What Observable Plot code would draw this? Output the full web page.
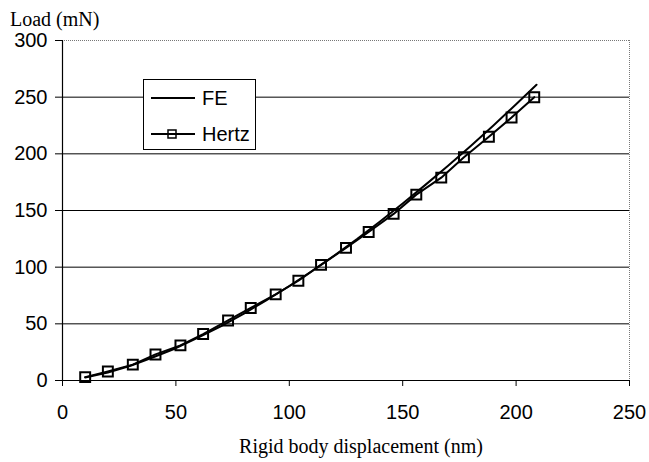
<!DOCTYPE html>
<html>
<head>
<meta charset="utf-8">
<script src="https://cdn.jsdelivr.net/npm/d3@7"></script>
<script src="https://cdn.jsdelivr.net/npm/@observablehq/plot@0.6"></script>
<style>
  html, body { margin: 0; padding: 0; background: #fff; }
  #chart { width: 649px; height: 462px; }
</style>
</head>
<body>
<div id="chart"></div>
<script>
// ---- data ----
const xTicks = [0, 50, 100, 150, 200, 250];
const yTicks = [0, 50, 100, 150, 200, 250, 300];
const gridValues = [50, 100, 150, 200, 250];

const hertzX = [10, 20, 31, 41, 52, 62, 73, 83, 94, 104, 114, 125, 135, 146, 156, 167, 177, 188, 198, 208];
const hertzY = [3, 8, 14, 23, 31, 41, 53, 64, 76, 88, 102, 117, 131, 147, 164, 179, 197, 215, 232, 250];

const feX = [10, 20, 30, 40, 50, 60, 70, 80, 90, 100, 110, 120, 130, 140, 150, 160, 170, 180, 190, 200, 209];
const feY = [2.6, 7, 13, 20.5, 28.5, 38, 48, 59, 71, 83.4, 96.6, 110.5, 125, 140.3, 156.2, 172.6, 189.5, 207, 225, 243.8, 261];

const seriesNames = ["FE", "Hertz"];
const yTitle = "Load (mN)";
const xTitle = "Rigid body displacement (nm)";

const hertz = hertzX.map((x, i) => ({x, y: hertzY[i]}));
const fe = feX.map((x, i) => ({x, y: feY[i]}));

const W = 649, H = 462;

const chart = Plot.plot({
  width: W,
  height: H,
  marginLeft: 62,
  marginRight: 20,
  marginTop: 40,
  marginBottom: 82,
  style: {fontFamily: "'Liberation Sans', Arial, sans-serif", fontSize: "20px", background: "#fff", color: "#000"},
  x: {domain: [0, 250], ticks: xTicks, tickSize: 6, tickPadding: 18, label: null},
  y: {domain: [0, 300], ticks: yTicks, tickSize: 7, tickPadding: 8, label: null},
  marks: [
    Plot.ruleY(gridValues, {stroke: "#000", strokeWidth: 1}),
    Plot.ruleY([300], {stroke: "#777", strokeWidth: 1, strokeDasharray: "1,1"}),
    Plot.ruleX([250], {stroke: "#777", strokeWidth: 1, strokeDasharray: "1,1"}),
    Plot.ruleX([0], {stroke: "#000", strokeWidth: 1.2}),
    Plot.ruleY([0], {stroke: "#000", strokeWidth: 1.2}),
    Plot.line(fe, {x: "x", y: "y", stroke: "#000", strokeWidth: 2}),
    Plot.line(hertz, {x: "x", y: "y", stroke: "#000", strokeWidth: 2}),
    Plot.dot(hertz, {x: "x", y: "y", symbol: "square", r: 5.6, fill: "none", stroke: "#000", strokeWidth: 2})
  ]
});

document.getElementById("chart").appendChild(chart);

const svg = d3.select(chart);

// axis titles
svg.append("text")
  .attr("x", 10).attr("y", 26)
  .attr("text-anchor", "start")
  .attr("font-family", "'Liberation Serif', 'Times New Roman', serif")
  .attr("font-size", 20)
  .attr("fill", "#000")
  .text(yTitle);

svg.append("text")
  .attr("x", 361).attr("y", 453)
  .attr("text-anchor", "middle")
  .attr("font-family", "'Liberation Serif', 'Times New Roman', serif")
  .attr("font-size", 20)
  .attr("fill", "#000")
  .text(xTitle);

// legend
const lg = svg.append("g");
lg.append("rect")
  .attr("x", 143.5).attr("y", 79.5).attr("width", 112).attr("height", 70)
  .attr("fill", "#fff").attr("stroke", "#000").attr("stroke-width", 1);
const rows = [{name: seriesNames[0], y: 98, marker: false}, {name: seriesNames[1], y: 134, marker: true}];
rows.forEach(r => {
  lg.append("line").attr("x1", 151).attr("x2", 195).attr("y1", r.y).attr("y2", r.y)
    .attr("stroke", "#000").attr("stroke-width", 2);
  if (r.marker) {
    lg.append("rect").attr("x", 168).attr("y", r.y - 4).attr("width", 8).attr("height", 8)
      .attr("fill", "none").attr("stroke", "#000").attr("stroke-width", 1.5);
  }
  lg.append("text").attr("x", 202).attr("y", r.y + 7)
    .attr("text-anchor", "start")
    .attr("font-family", "'Liberation Sans', Arial, sans-serif")
    .attr("font-size", 20).attr("fill", "#000")
    .text(r.name);
});
</script>
</body>
</html>
